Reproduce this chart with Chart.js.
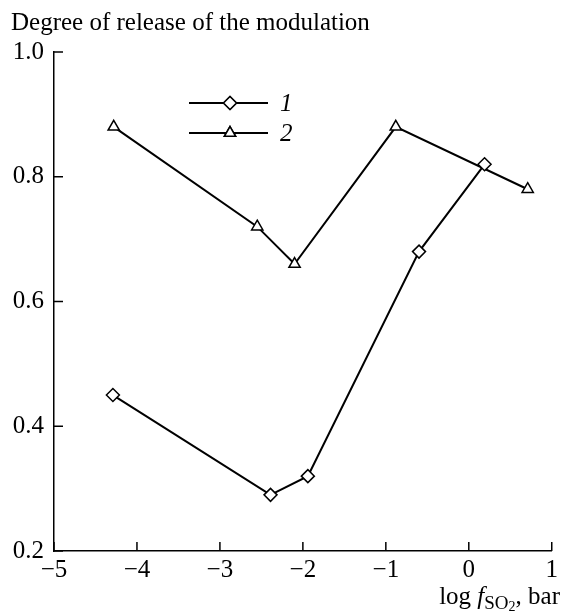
<!DOCTYPE html>
<html>
<head>
<meta charset="utf-8">
<script src="https://cdn.jsdelivr.net/npm/chart.js@4.4.0/dist/chart.umd.min.js"></script>
<style>
  html,body{margin:0;padding:0;background:#fff;}
  #wrap{width:562px;height:611px;position:relative;}
</style>
</head>
<body>
<div id="wrap"><canvas id="c" width="562" height="611"></canvas></div>
<script>
// ---- data ----
const series1X = [-4.29, -2.39, -1.94, -0.60, 0.19];
const series1Y = [0.45, 0.29, 0.32, 0.68, 0.82];
const series2X = [-4.28, -2.55, -2.10, -0.88, 0.71];
const series2Y = [0.88, 0.72, 0.66, 0.88, 0.78];
const seriesLabels = ['1', '2'];
const xTicks = [-5, -4, -3, -2, -1, 0, 1];
const yTicks = [0.2, 0.4, 0.6, 0.8, 1.0];
const yTitle = 'Degree of release of the modulation';

const FONT = '"Liberation Serif", "Times New Roman", serif';
const FS = 25;
const toPts = (xs, ys) => xs.map((x, i) => ({x: x, y: ys[i]}));

const decorPlugin = {
  id: 'decor',
  afterDraw(chart) {
    const ctx = chart.ctx;
    const xs = chart.scales.x, ys = chart.scales.y;
    const area = chart.chartArea;
    ctx.save();
    ctx.strokeStyle = '#000';
    ctx.lineWidth = 1.5;
    // inward ticks
    xTicks.forEach(v => {
      const px = xs.getPixelForValue(v);
      ctx.beginPath(); ctx.moveTo(px, area.bottom); ctx.lineTo(px, area.bottom - 9); ctx.stroke();
    });
    yTicks.forEach(v => {
      const py = ys.getPixelForValue(v);
      ctx.beginPath(); ctx.moveTo(area.left, py); ctx.lineTo(area.left + 9, py); ctx.stroke();
    });
    // y title
    ctx.fillStyle = '#000';
    ctx.font = FS + 'px ' + FONT;
    ctx.textAlign = 'left';
    ctx.textBaseline = 'alphabetic';
    ctx.fillText(yTitle, 11, 30);
    // x title: log f_SO2, bar (right aligned)
    const parts = [
      {t: 'log ', f: FS + 'px ' + FONT, dy: 0},
      {t: 'f', f: 'italic ' + FS + 'px ' + FONT, dy: 0},
      {t: 'SO', f: '19px ' + FONT, dy: 5},
      {t: '2', f: '14px ' + FONT, dy: 7},
      {t: ', bar', f: FS + 'px ' + FONT, dy: 0}
    ];
    let total = 0;
    parts.forEach(p => { ctx.font = p.f; p.w = ctx.measureText(p.t).width; total += p.w; });
    let x = 560 - total;
    const base = 604;
    parts.forEach(p => { ctx.font = p.f; ctx.fillText(p.t, x, base + p.dy); x += p.w; });
    // legend
    const legendRows = [{y: 103, ds: 0}, {y: 133, ds: 1}];
    legendRows.forEach(r => {
      const ds = chart.data.datasets[r.ds];
      ctx.lineWidth = 2;
      ctx.beginPath(); ctx.moveTo(189, r.y); ctx.lineTo(268, r.y); ctx.stroke();
      ctx.fillStyle = '#fff';
      ctx.lineWidth = ds.pointBorderWidth;
      Chart.helpers.drawPoint(ctx, {pointStyle: ds.pointStyle, radius: ds.pointRadius, borderWidth: ds.pointBorderWidth, rotation: 0}, 230, r.y);
      ctx.fill(); ctx.stroke();
      ctx.fillStyle = '#000';
      ctx.font = 'italic ' + FS + 'px ' + FONT;
      ctx.textBaseline = 'middle';
      ctx.fillText(ds.label, 280, r.y + 1);
      ctx.textBaseline = 'alphabetic';
    });
    ctx.restore();
  }
};

new Chart(document.getElementById('c'), {
  type: 'scatter',
  data: {
    datasets: [
      {label: seriesLabels[0], data: toPts(series1X, series1Y), showLine: true,
       borderColor: '#000', borderWidth: 2, backgroundColor: '#fff',
       pointStyle: 'rectRot', pointRadius: 6.5, pointBorderWidth: 1.5, pointBackgroundColor: '#fff', pointBorderColor: '#000', clip: false},
      {label: seriesLabels[1], data: toPts(series2X, series2Y), showLine: true,
       borderColor: '#000', borderWidth: 2, backgroundColor: '#fff',
       pointStyle: 'triangle', pointRadius: 6.5, pointBorderWidth: 1.5, pointBackgroundColor: '#fff', pointBorderColor: '#000', clip: false}
    ]
  },
  options: {
    responsive: false,
    animation: false,
    events: [],
    layout: {padding: {top: 52, right: 9, left: 0, bottom: 0}},
    plugins: {legend: {display: false}, title: {display: false}, tooltip: {enabled: false}},
    scales: {
      x: {
        type: 'linear', min: -5, max: 1,
        afterFit: s => { s.height = 60; },
        afterBuildTicks: s => { s.ticks = xTicks.map(v => ({value: v})); },
        grid: {display: true, drawOnChartArea: false, drawTicks: false},
        border: {display: true, color: '#000', width: 1.5},
        ticks: {color: '#000', font: {family: FONT, size: FS}, padding: 4,
                maxRotation: 0, callback: v => (v < 0 ? '\u2212' + Math.abs(v) : String(v))}
      },
      y: {
        type: 'linear', min: 0.2, max: 1.0,
        afterFit: s => { s.width = 54; },
        afterBuildTicks: s => { s.ticks = yTicks.map(v => ({value: v})); },
        grid: {display: true, drawOnChartArea: false, drawTicks: false},
        border: {display: true, color: '#000', width: 1.5},
        ticks: {color: '#000', font: {family: FONT, size: FS}, padding: 10,
                callback: v => Number(v).toFixed(1)}
      }
    }
  },
  plugins: [decorPlugin]
});
</script>
</body>
</html>
